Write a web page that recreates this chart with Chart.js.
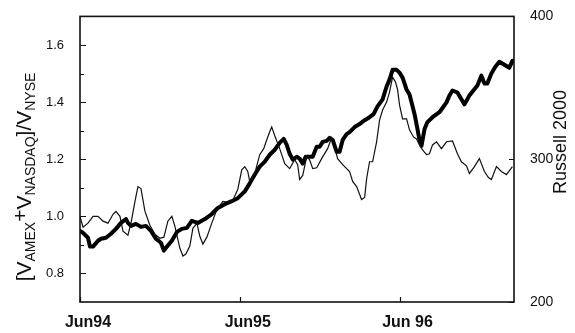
<!DOCTYPE html>
<html>
<head>
<meta charset="utf-8">
<script src="https://cdn.jsdelivr.net/npm/chart.js@4"></script>
<style>
html,body{margin:0;padding:0;background:#fff;}
canvas{display:block;}
</style>
</head>
<body>
<canvas id="c" width="575" height="333"></canvas>
<script>
// Months since June 1994
const xTickMonths = [0, 12, 24];
const xTickLabels = ["Jun94", "Jun95", "Jun 96"];
const leftTicks = [0.8, 1.0, 1.2, 1.4, 1.6];
const leftMinorTicks = [0.9, 1.1, 1.3, 1.5];
const rightTicks = [200, 300, 400];

// Russell 2000 (thick line, right axis)
const russellMonths = [0,0.23,0.6,0.75,0.98,1.35,1.58,1.95,2.33,2.7,3.08,3.45,3.6,3.83,4.2,4.58,4.95,5.33,5.7,6.08,6.3,6.53,6.9,7.28,7.65,8.03,8.4,8.85,9.38,9.9,10.35,10.88,11.4,11.85,12.38,12.75,13.13,13.5,13.88,14.25,14.63,15,15.3,15.53,15.75,15.98,16.28,16.5,16.73,16.95,17.25,17.48,17.78,18,18.23,18.53,18.75,18.98,19.28,19.5,19.73,20.03,20.25,20.63,21,21.38,21.75,22.05,22.35,22.73,23.03,23.25,23.48,23.78,24,24.23,24.53,24.75,24.98,25.13,25.35,25.5,25.65,25.88,26.1,26.48,27,27.53,27.75,27.98,28.35,28.65,28.88,29.25,29.55,29.85,30.15,30.38,30.6,30.9,31.2,31.5,31.88,32.25,32.48];
const russellValues = [249.8,248.4,245.0,238.8,238.8,242.9,244.3,245.0,247.8,251.2,255.4,258.1,255.4,253.3,254.7,252.6,253.3,249.8,244.3,241.5,236.0,238.8,242.9,249.1,251.2,251.9,256.8,255.4,258.1,261.6,265.8,268.5,270.6,272.7,277.5,283.1,289.3,294.8,298.3,303.1,306.6,311.4,314.2,310.0,303.8,299.7,301.7,300.4,296.9,301.7,301.7,301.7,308.7,308.7,312.1,312.8,314.9,313.5,305.2,305.2,313.5,317.6,319.0,322.5,324.6,327.3,329.4,331.5,337.0,341.9,350.9,355.7,362.6,362.6,360.6,357.1,348.8,345.3,337.0,331.5,321.1,313.5,309.3,321.1,326.0,329.4,332.9,339.8,344.6,348.1,346.7,341.9,338.4,344.6,348.1,351.6,358.5,353.0,353.0,360.0,364.7,368.2,366.1,364.0,368.9];

// [V_AMEX + V_NASDAQ] / V_NYSE (thin line, left axis)
const ratioMonths = [0,0.23,0.6,0.98,1.35,1.73,2.1,2.48,2.7,3,3.23,3.6,3.83,4.13,4.35,4.58,4.88,5.25,5.63,6,6.3,6.6,6.9,7.13,7.5,7.73,7.95,8.25,8.48,8.78,9,9.23,9.53,9.9,10.28,10.73,11.1,11.48,11.85,12.15,12.38,12.6,12.75,13.13,13.5,13.8,14.03,14.25,14.4,14.63,15,15.38,15.75,16.13,16.35,16.5,16.73,17.03,17.25,17.48,17.78,18.15,18.6,18.9,19.13,19.35,19.73,20.03,20.25,20.48,20.78,21,21.15,21.38,21.53,21.75,21.98,22.28,22.5,22.73,23.03,23.25,23.48,23.7,23.85,24,24.23,24.53,24.75,25.05,25.28,25.5,25.73,26.03,26.25,26.48,26.78,27.15,27.53,27.98,28.35,28.65,29.03,29.25,29.63,30,30.38,30.68,30.9,31.28,31.65,32.03,32.48];
const ratioValues = [1.000,0.962,0.976,1.000,1.000,0.983,0.976,1.007,1.017,1.000,0.948,0.934,0.976,1.052,1.104,1.097,1.017,0.969,0.937,0.923,0.927,0.983,1.000,0.965,0.889,0.861,0.868,0.896,0.958,0.976,0.930,0.903,0.927,0.976,1.024,1.052,1.049,1.056,1.094,1.163,1.174,1.157,1.122,1.150,1.216,1.237,1.268,1.296,1.313,1.282,1.237,1.184,1.167,1.198,1.181,1.129,1.143,1.209,1.198,1.167,1.170,1.202,1.237,1.275,1.243,1.202,1.181,1.167,1.157,1.122,1.104,1.077,1.059,1.066,1.132,1.191,1.191,1.261,1.337,1.372,1.400,1.435,1.487,1.470,1.445,1.390,1.341,1.341,1.303,1.278,1.271,1.250,1.233,1.216,1.219,1.250,1.261,1.237,1.261,1.264,1.219,1.191,1.177,1.150,1.174,1.202,1.157,1.136,1.129,1.174,1.157,1.146,1.174];

const russellData = russellMonths.map((m, i) => ({x: m, y: russellValues[i]}));
const ratioData = ratioMonths.map((m, i) => ({x: m, y: ratioValues[i]}));

const FONT = "'Liberation Sans', Arial, Helvetica, sans-serif";

const decorPlugin = {
  id: 'decor',
  afterDraw(chart) {
    const ctx = chart.ctx;
    const a = chart.chartArea;
    const xs = chart.scales.x, yl = chart.scales.y, yr = chart.scales.y2;
    ctx.save();
    ctx.strokeStyle = '#111';
    // frame
    ctx.lineWidth = 1.6;
    ctx.strokeRect(a.left, a.top, a.right - a.left, a.bottom - a.top);
    // tick marks (inward)
    ctx.lineWidth = 1.2;
    ctx.beginPath();
    leftTicks.forEach(v => { const y = Math.round(yl.getPixelForValue(v)) + 0.5; ctx.moveTo(a.left, y); ctx.lineTo(a.left + 6, y); });
    leftMinorTicks.forEach(v => { const y = Math.round(yl.getPixelForValue(v)) + 0.5; ctx.moveTo(a.left, y); ctx.lineTo(a.left + 4, y); });
    rightTicks.forEach(v => { const y = Math.round(yr.getPixelForValue(v)) + 0.5; ctx.moveTo(a.right, y); ctx.lineTo(a.right - 5, y); });
    xTickMonths.forEach(v => { const x = Math.round(xs.getPixelForValue(v)) + 0.5; ctx.moveTo(x, a.bottom); ctx.lineTo(x, a.bottom - 5); });
    ctx.stroke();

    // left title with subscripts
    ctx.fillStyle = '#111';
    const big = "21px " + FONT, small = "14px " + FONT;
    const parts = [["[V", big, 0], ["AMEX", small, 4], ["+", big, -4], ["V", big, 0], ["NASDAQ", small, 4], ["]/V", big, 0], ["NYSE", small, 4]];
    let total = 0;
    parts.forEach(p => { ctx.font = p[1]; total += ctx.measureText(p[0]).width; });
    ctx.save();
    ctx.translate(31, 177 + total / 2);
    ctx.rotate(-Math.PI / 2);
    ctx.textBaseline = 'alphabetic';
    ctx.textAlign = 'left';
    let cx = 0;
    parts.forEach(p => {
      ctx.font = p[1];
      ctx.fillText(p[0], cx, p[2]);
      cx += ctx.measureText(p[0]).width;
    });
    ctx.restore();

    // right title
    ctx.save();
    ctx.font = "18px " + FONT;
    ctx.translate(566, 142);
    ctx.rotate(-Math.PI / 2);
    ctx.textAlign = 'center';
    ctx.textBaseline = 'alphabetic';
    ctx.fillText("Russell 2000", 0, 0);
    ctx.restore();
    ctx.restore();
  }
};

new Chart(document.getElementById('c'), {
  type: 'line',
  data: {
    datasets: [
      {label: 'ratio', data: ratioData, yAxisID: 'y', borderColor: '#111', borderWidth: 1.2, pointRadius: 0, tension: 0, fill: false},
      {label: 'Russell 2000', data: russellData, yAxisID: 'y2', borderColor: '#000', borderWidth: 4, pointRadius: 0, tension: 0, fill: false, borderJoinStyle: 'round', borderCapStyle: 'round'}
    ]
  },
  options: {
    responsive: false,
    devicePixelRatio: 1,
    animation: false,
    events: [],
    layout: {padding: {top: 13, left: 0, right: 0, bottom: 0}},
    plugins: {legend: {display: false}, tooltip: {enabled: false}},
    scales: {
      x: {
        type: 'linear', min: 0, max: 32.6,
        grid: {display: false}, border: {display: false},
        afterBuildTicks: s => { s.ticks = xTickMonths.map(v => ({value: v})); },
        afterFit: s => { s.height = 31; },
        ticks: {
          autoSkip: false, maxRotation: 0, padding: 3, labelOffset: 8,
          color: '#111', font: {family: FONT, size: 16, weight: 'bold'},
          callback: (v) => { const i = xTickMonths.indexOf(v); return i >= 0 ? xTickLabels[i] : ''; }
        }
      },
      y: {
        type: 'linear', position: 'left', min: 0.7, max: 1.7,
        grid: {display: false}, border: {display: false},
        afterBuildTicks: s => { s.ticks = leftTicks.map(v => ({value: v})); },
        afterFit: s => { s.width = 80; },
        ticks: {padding: 8, color: '#111', font: {family: FONT, size: 13}, callback: v => Number(v).toFixed(1)}
      },
      y2: {
        type: 'linear', position: 'right', min: 200, max: 400,
        grid: {display: false}, border: {display: false},
        afterBuildTicks: s => { s.ticks = rightTicks.map(v => ({value: v})); },
        afterFit: s => { s.width = 61; },
        ticks: {padding: 8, color: '#111', font: {family: FONT, size: 14}, callback: v => String(v)}
      }
    }
  },
  plugins: [decorPlugin]
});
</script>
</body>
</html>
